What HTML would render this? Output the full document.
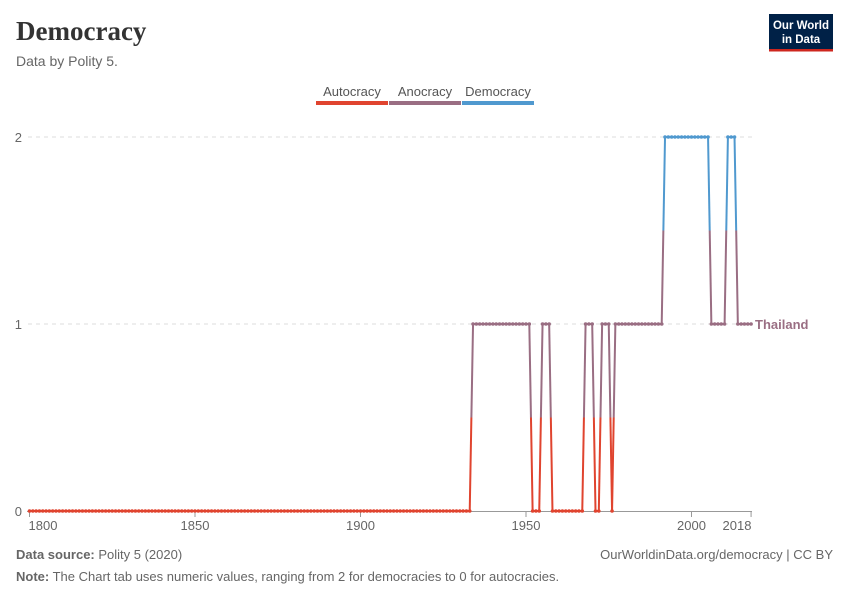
<!DOCTYPE html>
<html><head><meta charset="utf-8"><style>
body{margin:0;background:#fff;font-family:"Liberation Sans",sans-serif;}
</style></head><body>
<svg width="850" height="600" xmlns="http://www.w3.org/2000/svg">
<text x="16" y="40" font-family="Liberation Serif,serif" font-size="27" font-weight="bold" fill="#333">Democracy</text>
<text x="16" y="66" font-size="14" fill="#666">Data by Polity 5.</text>
<g>
<rect x="769" y="14" width="64" height="37" fill="#002147"/>
<rect x="769" y="49" width="64" height="2.5" fill="#ce261e"/>
<text x="801" y="29" font-size="11.5" font-weight="bold" fill="#fff" text-anchor="middle">Our World</text>
<text x="801" y="43" font-size="11.5" font-weight="bold" fill="#fff" text-anchor="middle">in Data</text>
</g>
<g>
<g><text x="352" y="96" font-size="13" fill="#555" text-anchor="middle">Autocracy</text><rect x="316" y="101" width="72" height="4" fill="#e0442f"/></g>
<g><text x="425" y="96" font-size="13" fill="#555" text-anchor="middle">Anocracy</text><rect x="389" y="101" width="72" height="4" fill="#9a6e83"/></g>
<g><text x="498" y="96" font-size="13" fill="#555" text-anchor="middle">Democracy</text><rect x="462" y="101" width="72" height="4" fill="#5099cf"/></g>
</g>
<g id="grid"></g>
<g id="series"></g>
<text x="755" y="329" font-size="13" font-weight="bold" fill="#9a6e83">Thailand</text>
<text x="16" y="559" font-size="13" fill="#666"><tspan font-weight="bold">Data source:</tspan> Polity 5 (2020)</text>
<text x="833" y="559" font-size="13" fill="#666" text-anchor="end">OurWorldinData.org/democracy | CC BY</text>
<text x="16" y="581" font-size="13" fill="#666"><tspan font-weight="bold">Note:</tspan> The Chart tab uses numeric values, ranging from 2 for democracies to 0 for autocracies.</text>
</svg>
<script>
const xTicks=[1800,1850,1900,1950,2000,2018];
const yTicks=[0,1,2];
const periodStarts=[1800,1934,1952,1955,1958,1968,1971,1973,1976,1977,1992,2006,2011,2014];
const periodValues=[0,1,0,1,0,1,0,1,0,1,2,1,2,1];
const lastYear=2018;
const colors=["#e0442f","#9a6e83","#5099cf"];
const NS="http://www.w3.org/2000/svg";
const x=y=>29.5+(y-1800)*3.31;
const yv=v=>511-v*187;
function mk(t,a,p){const e=document.createElementNS(NS,t);for(const k in a)e.setAttribute(k,a[k]);p.appendChild(e);return e;}
const grid=document.getElementById('grid'),ser=document.getElementById('series');
yTicks.forEach(v=>{
 if(v>0){const l=mk('line',{x1:28,x2:752,y1:yv(v),y2:yv(v),stroke:'#ddd','stroke-dasharray':'4,4'},grid);
 
 }
 const t=mk('text',{x:22,y:yv(v)+5,'font-size':13,fill:'#666','text-anchor':'end'},grid);t.textContent=v;
 
 
});
const ax=mk('line',{x1:27,x2:752,y1:511.5,y2:511.5,stroke:'#999'},grid);


xTicks.forEach(v=>{
 mk('line',{x1:x(v),x2:x(v),y1:512,y2:517,stroke:'#999'},grid);
 const lx=v===1800?43:(v===2018?737:x(v));
 const t=mk('text',{x:lx,y:530,'font-size':13,fill:'#666','text-anchor':'middle'},grid);t.textContent=v;
 
 
});
const years=[],vals=[];
for(let y=1800;y<=lastYear;y++){let v=0;periodStarts.forEach((s,i)=>{if(y>=s)v=periodValues[i];});years.push(y);vals.push(v);}
for(let i=0;i<years.length-1;i++){
 const a=vals[i],b=vals[i+1],x1=x(years[i]),x2=x(years[i+1]);
 if(a===b){mk('line',{x1:x1,x2:x2,y1:yv(a),y2:yv(b),stroke:colors[a],'stroke-width':2},ser);}
 else{const m=(a+b)/2,xm=(x1+x2)/2;
  mk('line',{x1:x1,x2:xm,y1:yv(a),y2:yv(m),stroke:colors[a],'stroke-width':2},ser);
  mk('line',{x1:xm,x2:x2,y1:yv(m),y2:yv(b),stroke:colors[b],'stroke-width':2},ser);}
}
years.forEach((y,i)=>{const c=mk('circle',{cx:x(y),cy:yv(vals[i]),r:1.8,fill:colors[vals[i]]},ser);
 
 });
</script>
</body></html>
